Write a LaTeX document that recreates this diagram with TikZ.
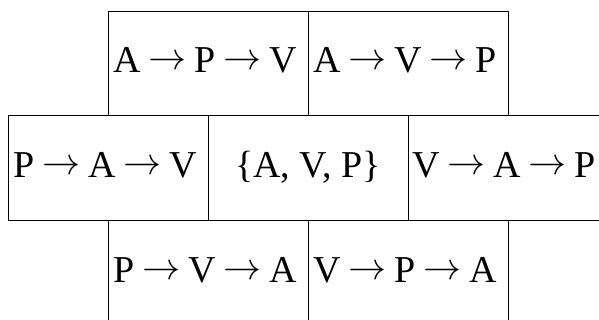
\documentclass[tikz,border=0pt]{standalone}
\usepackage{fix-cm}
\usepackage{fontspec}
\setmainfont{Liberation Serif}
\newcommand\myarr{\hspace{8pt}\raisebox{3pt}{$\rightarrow$}\hspace{8pt}}
\begin{document}
\begin{tikzpicture}[x=1pt,y=1pt,
  cell/.style={draw=black, line width=0.9pt, minimum width=200pt, minimum height=104.5pt,
    inner sep=0pt, outer sep=0pt},
  lbl/.style={inner sep=0pt, outer sep=0pt, font=\fontsize{38}{44}\selectfont, anchor=base west}]
\useasboundingbox (0,0) rectangle (599,-320);
\clip (0,0) rectangle (599,-320);
\node[cell] (apv) at (208,-63.25) {};
\node[cell] (avp) at (408,-63.25) {};
\node[cell] (pav) at (108,-167.75) {};
\node[cell] (set) at (308,-167.75) {};
\node[cell] (vap) at (508,-167.75) {};
\node[cell] (pva) at (208,-272.25) {};
\node[cell] (vpa) at (408,-272.25) {};
\node[lbl] (tapv) at ([xshift=5pt,yshift=-62pt]apv.north west) {A\myarr P\myarr V};
\node[lbl] (tavp) at ([xshift=5pt,yshift=-62pt]avp.north west) {A\myarr V\myarr P};
\node[lbl] (tpav) at ([xshift=5pt,yshift=-62pt]pav.north west) {P\myarr A\myarr V};
\node[lbl, anchor=base] (tset) at ([yshift=-62pt]set.north) {\{A, V, P\}};
\node[lbl] (tvap) at ([xshift=4pt,yshift=-62pt]vap.north west) {V\myarr A\myarr P};
\node[lbl] (tpva) at ([xshift=5pt,yshift=-62pt]pva.north west) {P\myarr V\myarr A};
\node[lbl] (tvpa) at ([xshift=5pt,yshift=-62pt]vpa.north west) {V\myarr P\myarr A};
\end{tikzpicture}
\end{document}
